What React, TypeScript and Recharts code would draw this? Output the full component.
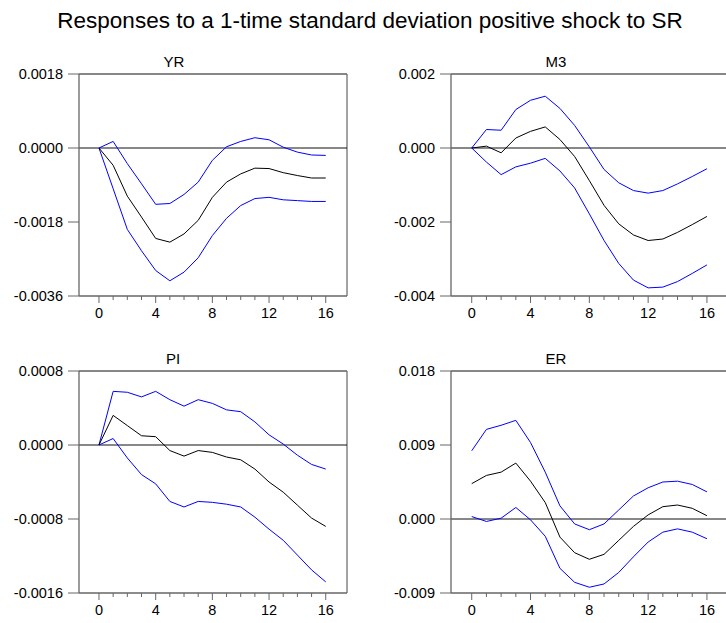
import React from "react";
import { LineChart, Line, XAxis, YAxis, ReferenceLine } from "recharts";

const periods = [0, 1, 2, 3, 4, 5, 6, 7, 8, 9, 10, 11, 12, 13, 14, 15, 16];
const xTicks = periods;

const yrResp = [0, -0.00042, -0.00117, -0.00168, -0.0022, -0.00229, -0.00209, -0.00176, -0.0012, -0.00083, -0.00063, -0.00049, -0.0005, -0.0006, -0.00067, -0.00073, -0.00073];
const yrUpper = [0, 0.00016, -0.00038, -0.00087, -0.00137, -0.00135, -0.00113, -0.00083, -0.0003, 0.00003, 0.00016, 0.00025, 0.0002, 0.00002, -0.0001, -0.00017, -0.00018];
const yrLower = [0, -0.00099, -0.00198, -0.0025, -0.00298, -0.00323, -0.00302, -0.00267, -0.00213, -0.00171, -0.0014, -0.00123, -0.0012, -0.00126, -0.00128, -0.0013, -0.0013];

const m3Resp = [0, 0.00005, -0.00013, 0.00027, 0.00045, 0.00057, 0.00023, -0.00023, -0.00088, -0.00155, -0.00205, -0.00235, -0.0025, -0.00246, -0.00228, -0.00207, -0.00185];
const m3Upper = [0, 0.0005, 0.00048, 0.00104, 0.00129, 0.0014, 0.00107, 0.00061, 0.00003, -0.00058, -0.00094, -0.00115, -0.00122, -0.00115, -0.00097, -0.00077, -0.00056];
const m3Lower = [0, -0.00038, -0.00072, -0.00051, -0.00041, -0.00028, -0.00062, -0.00108, -0.00178, -0.0025, -0.00312, -0.00357, -0.00378, -0.00376, -0.00361, -0.00339, -0.00316];

const piResp = [0, 0.00032, 0.00021, 0.0001, 0.00009, -0.00006, -0.00012, -0.00006, -0.00008, -0.00013, -0.00016, -0.00026, -0.0004, -0.00051, -0.00065, -0.00079, -0.00088];
const piUpper = [0, 0.00058, 0.00057, 0.00052, 0.00058, 0.00049, 0.00042, 0.00049, 0.00045, 0.00038, 0.00036, 0.00025, 0.00011, 0.00001, -0.00011, -0.00021, -0.00026];
const piLower = [0, 0.00007, -0.00014, -0.00032, -0.00042, -0.00061, -0.00067, -0.00061, -0.00062, -0.00064, -0.00067, -0.00078, -0.00091, -0.00103, -0.00119, -0.00135, -0.00148];

const erResp = [0.0043, 0.0053, 0.0057, 0.0068, 0.0046, 0.002, -0.0022, -0.0041, -0.0049, -0.0043, -0.0026, -0.0009, 0.0005, 0.0015, 0.0017, 0.0013, 0.0004];
const erUpper = [0.0083, 0.0109, 0.0114, 0.012, 0.0093, 0.0057, 0.0016, -0.0006, -0.0013, -0.0006, 0.0011, 0.0028, 0.0038, 0.0045, 0.0046, 0.0042, 0.0033];
const erLower = [0.0003, -0.0003, 0.0001, 0.0014, -0.0001, -0.0021, -0.006, -0.0077, -0.0083, -0.0079, -0.0065, -0.0046, -0.0028, -0.0016, -0.0012, -0.0016, -0.0024];

const yrTicks = [-0.0036, -0.0018, 0, 0.0018];
const m3Ticks = [-0.004, -0.002, 0, 0.002];
const piTicks = [-0.0016, -0.0008, 0, 0.0008];
const erTicks = [-0.009, 0, 0.009, 0.018];

const X_MIN = -1.41;
const X_MAX = 17.5;
const FONT = "Arial, 'Liberation Sans', sans-serif";
const AXIS = "#666";

function XTick(props: any) {
  const { x, y, payload } = props;
  const major = payload.value % 4 === 0;
  return (
    <g>
      <line x1={x} x2={x} y1={y} y2={y + (major ? 7 : 4)} stroke={AXIS} strokeWidth={1} />
      {major && (
        <text x={x} y={y + 22} textAnchor="middle" fontSize={14.5} fontFamily={FONT} fill="#000">
          {payload.value}
        </text>
      )}
    </g>
  );
}

type PanelProps = {
  title: string;
  resp: number[];
  upper: number[];
  lower: number[];
  ticks: number[];
  digits: number;
  left: number;
  top: number;
  width: number;
  marginLeft: number;
  marginRight: number;
  titleX: number;
};

function Panel(p: PanelProps) {
  const rows = periods.map((t, i) => ({ t, resp: p.resp[i], upper: p.upper[i], lower: p.lower[i] }));
  const yMin = p.ticks[0];
  const yMax = p.ticks[p.ticks.length - 1];
  return (
    <>
      <div
        style={{
          position: "absolute",
          left: p.titleX - 40,
          width: 80,
          top: p.top + 3,
          textAlign: "center",
          fontFamily: FONT,
          fontSize: 15,
        }}
      >
        {p.title}
      </div>
      <div style={{ position: "absolute", left: p.left, top: p.top }}>
        <LineChart
          width={p.width}
          height={276}
          data={rows}
          margin={{ top: 24, right: p.marginRight, left: p.marginLeft, bottom: 0 }}
        >
          <XAxis
            dataKey="t"
            type="number"
            domain={[X_MIN, X_MAX]}
            ticks={xTicks}
            interval={0}
            height={30}
            tickSize={0}
            tickMargin={0}
            tickLine={false}
            tick={<XTick />}
            axisLine={{ stroke: AXIS, strokeWidth: 1.3 }}
          />
          <YAxis
            type="number"
            domain={[yMin, yMax]}
            ticks={p.ticks}
            width={70}
            tickSize={11}
            tickMargin={5}
            tickLine={{ stroke: AXIS, strokeWidth: 1 }}
            axisLine={{ stroke: AXIS, strokeWidth: 1.3 }}
            tick={{ fill: "#000", fontSize: 14.5, fontFamily: FONT }}
            tickFormatter={(v: number) => v.toFixed(p.digits)}
            allowDataOverflow
          />
          <ReferenceLine y={yMax} stroke="#111" strokeWidth={1.2} />
          <ReferenceLine x={X_MAX} stroke={AXIS} strokeWidth={1.2} />
          <ReferenceLine y={0} stroke="#111" strokeWidth={1} />
          <Line dataKey="upper" stroke="#0000ff" strokeWidth={1} dot={false} isAnimationActive={false} type="linear" />
          <Line dataKey="lower" stroke="#0000ff" strokeWidth={1} dot={false} isAnimationActive={false} type="linear" />
          <Line dataKey="resp" stroke="#000" strokeWidth={1} dot={false} isAnimationActive={false} type="linear" />
        </LineChart>
      </div>
    </>
  );
}

export default function App() {
  return (
    <div
      style={{
        position: "absolute",
        left: 0,
        top: 0,
        width: 726,
        height: 623,
        overflow: "hidden",
        background: "#fff",
      }}
    >
      <div
        style={{
          position: "absolute",
          left: 7,
          top: 8,
          width: 726,
          textAlign: "center",
          fontFamily: FONT,
          fontSize: 22.5,
        }}
      >
        Responses to a 1-time standard deviation positive shock to SR
      </div>
      <Panel title="YR" resp={yrResp} upper={yrUpper} lower={yrLower} ticks={yrTicks} digits={4}
        left={0} top={50} width={363} marginLeft={9} marginRight={16} titleX={174} />
      <Panel title="M3" resp={m3Resp} upper={m3Upper} lower={m3Lower} ticks={m3Ticks} digits={3}
        left={363} top={50} width={366} marginLeft={18} marginRight={0} titleX={556} />
      <Panel title="PI" resp={piResp} upper={piUpper} lower={piLower} ticks={piTicks} digits={4}
        left={0} top={347} width={363} marginLeft={9} marginRight={16} titleX={173} />
      <Panel title="ER" resp={erResp} upper={erUpper} lower={erLower} ticks={erTicks} digits={3}
        left={363} top={347} width={366} marginLeft={18} marginRight={0} titleX={556} />
    </div>
  );
}
